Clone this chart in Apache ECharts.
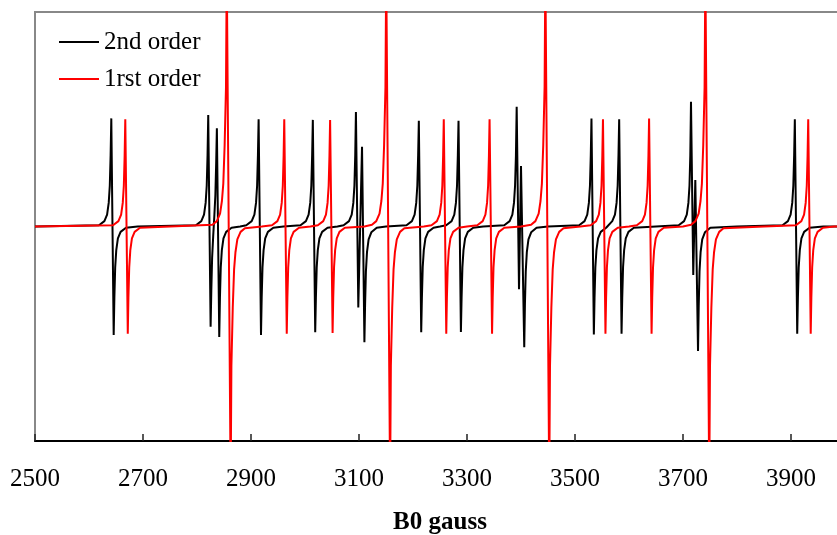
<!DOCTYPE html>
<html>
<head>
<meta charset="utf-8">
<script src="https://cdn.jsdelivr.net/npm/echarts@6/dist/echarts.min.js"></script>
<style>
  html, body { margin: 0; padding: 0; background: #fff; }
  #wrap { position: relative; width: 837px; height: 535px; overflow: hidden; }
  #chart { position: absolute; left: 0; top: 0; width: 849px; height: 535px; }
</style>
</head>
<body>
<div id="wrap"><div id="chart"></div></div>
<script>
// field in gauss, signal in arbitrary units (baseline = 0)
const seriesNames = ['2nd order', '1rst order'];
const fieldTicks = [2500, 2700, 2900, 3100, 3300, 3500, 3700, 3900];

const secondOrder = [
  [2500, 0],
  [2618.5, 0.006], [2628.5, 0.025], [2633.5, 0.055], [2636.5, 0.11], [2638.5, 0.19], [2640, 0.33], [2641.3, 0.504],
  [2645.7, -0.506], [2647, -0.33], [2648.5, -0.19], [2650.5, -0.11], [2653.5, -0.055], [2658.5, -0.025], [2668.5, -0.006],
  [2690, 0],
  [2798, 0.006], [2808, 0.025], [2813, 0.055], [2816, 0.11], [2818, 0.19], [2819.5, 0.33], [2820.8, 0.52],
  [2825.2, -0.467], [2826.5, -0.3], [2828, -0.145], [2830, -0.045], [2832, 0.045], [2834, 0.145], [2835.5, 0.295], [2836.8, 0.458],
  [2841.2, -0.515], [2842.5, -0.33], [2844, -0.19], [2846, -0.11], [2849, -0.055], [2854, -0.025], [2864, -0.006],
  [2880, 0],
  [2891.3, 0.006], [2901.3, 0.025], [2906.3, 0.055], [2909.3, 0.11], [2911.3, 0.19], [2912.8, 0.33], [2914.1, 0.5],
  [2918.5, -0.506], [2919.8, -0.33], [2921.3, -0.19], [2923.3, -0.11], [2926.3, -0.055], [2931.3, -0.025], [2941.3, -0.006],
  [2960, 0],
  [2991.7, 0.006], [3001.7, 0.025], [3006.7, 0.055], [3009.7, 0.11], [3011.7, 0.19], [3013.2, 0.33], [3014.5, 0.497],
  [3018.9, -0.493], [3020.2, -0.33], [3021.7, -0.19], [3023.7, -0.11], [3026.7, -0.055], [3031.7, -0.025], [3041.7, -0.006],
  [3060, 0],
  [3071.5, 0.006], [3081.5, 0.025], [3086.5, 0.055], [3089.5, 0.11], [3091.5, 0.19], [3093, 0.33], [3094.3, 0.534],
  [3098.7, -0.377], [3105.6, 0.372],
  [3110, -0.54], [3111.3, -0.36], [3112.8, -0.21], [3114.8, -0.12], [3117.8, -0.06], [3122.8, -0.027], [3132.8, -0.006],
  [3150, 0],
  [3188, 0.006], [3198, 0.025], [3203, 0.055], [3206, 0.11], [3208, 0.19], [3209.5, 0.33], [3210.8, 0.493],
  [3215.2, -0.493], [3216.5, -0.33], [3218, -0.19], [3220, -0.11], [3223, -0.055], [3228, -0.025], [3238, -0.006],
  [3250, 0],
  [3261.5, 0.006], [3271.5, 0.025], [3276.5, 0.055], [3279.5, 0.11], [3281.5, 0.19], [3283, 0.33], [3284.3, 0.493],
  [3288.7, -0.492], [3290, -0.33], [3291.5, -0.19], [3293.5, -0.11], [3296.5, -0.055], [3301.5, -0.025], [3311.5, -0.006],
  [3330, 0],
  [3369, 0.006], [3379, 0.025], [3384, 0.055], [3387, 0.11], [3389, 0.19], [3390.6, 0.33], [3392, 0.558],
  [3396.3, -0.293], [3400, 0.282],
  [3406, -0.563], [3407.3, -0.36], [3408.8, -0.21], [3410.8, -0.12], [3413.8, -0.06], [3418.8, -0.027], [3428.8, -0.006],
  [3450, 0],
  [3507.7, 0.006], [3517.7, 0.025], [3522.7, 0.055], [3525.7, 0.11], [3527.7, 0.19], [3529.2, 0.33], [3530.5, 0.503],
  [3534.9, -0.503], [3536.2, -0.33], [3537.7, -0.19], [3539.7, -0.11], [3542.7, -0.055], [3547.7, -0.025], [3557.7, -0.006],
  [3569, 0.025], [3574, 0.055], [3577, 0.11], [3579, 0.19], [3580.5, 0.33], [3581.8, 0.5],
  [3586.2, -0.5], [3587.5, -0.33], [3589, -0.19], [3591, -0.11], [3594, -0.055], [3599, -0.025], [3609, -0.006],
  [3650, 0],
  [3692, 0.006], [3702, 0.025], [3707, 0.055], [3710, 0.11], [3712, 0.19], [3713.5, 0.33], [3714.8, 0.582],
  [3719, -0.226], [3722.8, 0.217],
  [3727.8, -0.58], [3729.1, -0.37], [3730.6, -0.21], [3732.6, -0.12], [3735.6, -0.06], [3740.6, -0.027], [3750.6, -0.006],
  [3800, 0],
  [3884.3, 0.006], [3894.3, 0.025], [3899.3, 0.055], [3902.3, 0.11], [3904.3, 0.19], [3905.8, 0.33], [3907.1, 0.5],
  [3911.5, -0.5], [3912.8, -0.33], [3914.3, -0.19], [3916.3, -0.11], [3919.3, -0.055], [3924.3, -0.025], [3934.3, -0.006],
  [3960, 0], [4000, 0]
];

const firstOrder = [
  [2500, 0],
  [2644.5, 0.006], [2654.5, 0.025], [2659.5, 0.055], [2662.5, 0.11], [2664.5, 0.19], [2666, 0.33], [2667.2, 0.5],
  [2671.8, -0.5], [2673, -0.33], [2674.5, -0.19], [2676.5, -0.11], [2679.5, -0.055], [2684.5, -0.025], [2694.5, -0.006],
  [2750, 0],
  [2828.7, 0.008], [2836.7, 0.025], [2842.7, 0.06], [2846.2, 0.12], [2848.7, 0.2], [2851.2, 0.38], [2853.7, 0.65], [2855.1, 1.2],
  [2862.3, -1.2], [2863.7, -0.65], [2866.2, -0.38], [2868.7, -0.2], [2871.2, -0.12], [2874.7, -0.06], [2880.7, -0.025], [2888.7, -0.008],
  [2920, 0],
  [2938.9, 0.006], [2948.9, 0.025], [2953.9, 0.055], [2956.9, 0.11], [2958.9, 0.19], [2960.4, 0.33], [2961.6, 0.5],
  [2966.2, -0.5], [2967.4, -0.33], [2968.9, -0.19], [2970.9, -0.11], [2973.9, -0.055], [2978.9, -0.025], [2988.9, -0.006],
  [3010, 0],
  [3023.8, 0.006], [3033.8, 0.025], [3038.8, 0.055], [3041.8, 0.11], [3043.8, 0.19], [3045.3, 0.33], [3046.5, 0.497],
  [3051.1, -0.497], [3052.3, -0.33], [3053.8, -0.19], [3055.8, -0.11], [3058.8, -0.055], [3063.8, -0.025], [3073.8, -0.006],
  [3110, 0],
  [3124, 0.008], [3132, 0.025], [3138, 0.06], [3141.5, 0.12], [3144, 0.2], [3146.5, 0.38], [3149, 0.65], [3150.4, 1.2],
  [3157.6, -1.2], [3159, -0.65], [3161.5, -0.38], [3164, -0.2], [3166.5, -0.12], [3170, -0.06], [3176, -0.025], [3184, -0.008],
  [3220, 0],
  [3234.3, 0.006], [3244.3, 0.025], [3249.3, 0.055], [3252.3, 0.11], [3254.3, 0.19], [3255.8, 0.33], [3257, 0.5],
  [3261.6, -0.5], [3262.8, -0.33], [3264.3, -0.19], [3266.3, -0.11], [3269.3, -0.055], [3274.3, -0.025], [3284.3, -0.006],
  [3300, 0],
  [3319.1, 0.006], [3329.1, 0.025], [3334.1, 0.055], [3337.1, 0.11], [3339.1, 0.19], [3340.6, 0.33], [3341.8, 0.5],
  [3346.4, -0.5], [3347.6, -0.33], [3349.1, -0.19], [3351.1, -0.11], [3354.1, -0.055], [3359.1, -0.025], [3369.1, -0.006],
  [3400, 0],
  [3418.7, 0.008], [3426.7, 0.025], [3432.7, 0.06], [3436.2, 0.12], [3438.7, 0.2], [3441.2, 0.38], [3443.7, 0.65], [3445.1, 1.2],
  [3452.3, -1.2], [3453.7, -0.65], [3456.2, -0.38], [3458.7, -0.2], [3461.2, -0.12], [3464.7, -0.06], [3470.7, -0.025], [3478.7, -0.008],
  [3510, 0],
  [3529.1, 0.006], [3539.1, 0.025], [3544.1, 0.055], [3547.1, 0.11], [3549.1, 0.19], [3550.6, 0.33], [3551.8, 0.5],
  [3556.4, -0.5], [3557.6, -0.33], [3559.1, -0.19], [3561.1, -0.11], [3564.1, -0.055], [3569.1, -0.025], [3579.1, -0.006],
  [3600, 0],
  [3614.5, 0.006], [3624.5, 0.025], [3629.5, 0.055], [3632.5, 0.11], [3634.5, 0.19], [3636, 0.33], [3637.2, 0.503],
  [3641.8, -0.5], [3643, -0.33], [3644.5, -0.19], [3646.5, -0.11], [3649.5, -0.055], [3654.5, -0.025], [3664.5, -0.006],
  [3700, 0],
  [3715, 0.008], [3723, 0.025], [3729, 0.06], [3732.5, 0.12], [3735, 0.2], [3737.5, 0.38], [3740, 0.65], [3741.4, 1.2],
  [3748.6, -1.2], [3750, -0.65], [3752.5, -0.38], [3755, -0.2], [3757.5, -0.12], [3761, -0.06], [3767, -0.025], [3775, -0.008],
  [3850, 0],
  [3909.2, 0.006], [3919.2, 0.025], [3924.2, 0.055], [3927.2, 0.11], [3929.2, 0.19], [3930.7, 0.33], [3931.9, 0.5],
  [3936.5, -0.5], [3937.7, -0.33], [3939.2, -0.19], [3941.2, -0.11], [3944.2, -0.055], [3949.2, -0.025], [3959.2, -0.006],
  [3980, 0], [4000, 0]
];

const FONT = 'Liberation Serif, Times New Roman, serif';

const chart = echarts.init(document.getElementById('chart'));

const option = {
  animation: false,
  backgroundColor: '#fff',
  // the plot runs on to 4000 G, a little past the right edge of the window
  grid: {
    left: 35, top: 12, right: 4, height: 429,
    outerBoundsMode: 'none',
    show: true, borderColor: '#888', borderWidth: 2, backgroundColor: 'transparent'
  },
  legend: {
    orient: 'vertical',
    left: 59, top: 29,
    padding: 0,
    itemGap: 11,
    itemWidth: 40, itemHeight: 2,
    icon: 'rect',
    data: seriesNames,
    textStyle: { fontFamily: FONT, fontSize: 25, color: '#000', lineHeight: 26 }
  },
  xAxis: {
    type: 'value',
    min: fieldTicks[0], max: 4000, interval: 200,
    name: 'B0 gauss',
    nameLocation: 'middle',
    nameGap: 69,
    nameTextStyle: { fontFamily: FONT, fontSize: 25, fontWeight: 'bold', color: '#000' },
    axisLine: { show: true, onZero: false, lineStyle: { color: '#000', width: 2 } },
    axisTick: { show: true, inside: true, length: 7, lineStyle: { color: '#222', width: 1.5 } },
    axisLabel: {
      fontFamily: FONT, fontSize: 25, color: '#000', margin: 26, showMaxLabel: false,
      formatter: v => String(v)
    },
    splitLine: { show: false }
  },
  yAxis: {
    type: 'value', min: -1, max: 1, show: false
  },
  series: [
    {
      name: seriesNames[0], type: 'line', data: secondOrder,
      symbol: 'none', clip: true,
      lineStyle: { color: '#000', width: 2 }, itemStyle: { color: '#000' }
    },
    {
      name: seriesNames[1], type: 'line', data: firstOrder,
      symbol: 'none', clip: true,
      lineStyle: { color: '#ff0000', width: 2 }, itemStyle: { color: '#ff0000' }
    }
  ]
};

chart.setOption(option);
</script>
</body>
</html>
